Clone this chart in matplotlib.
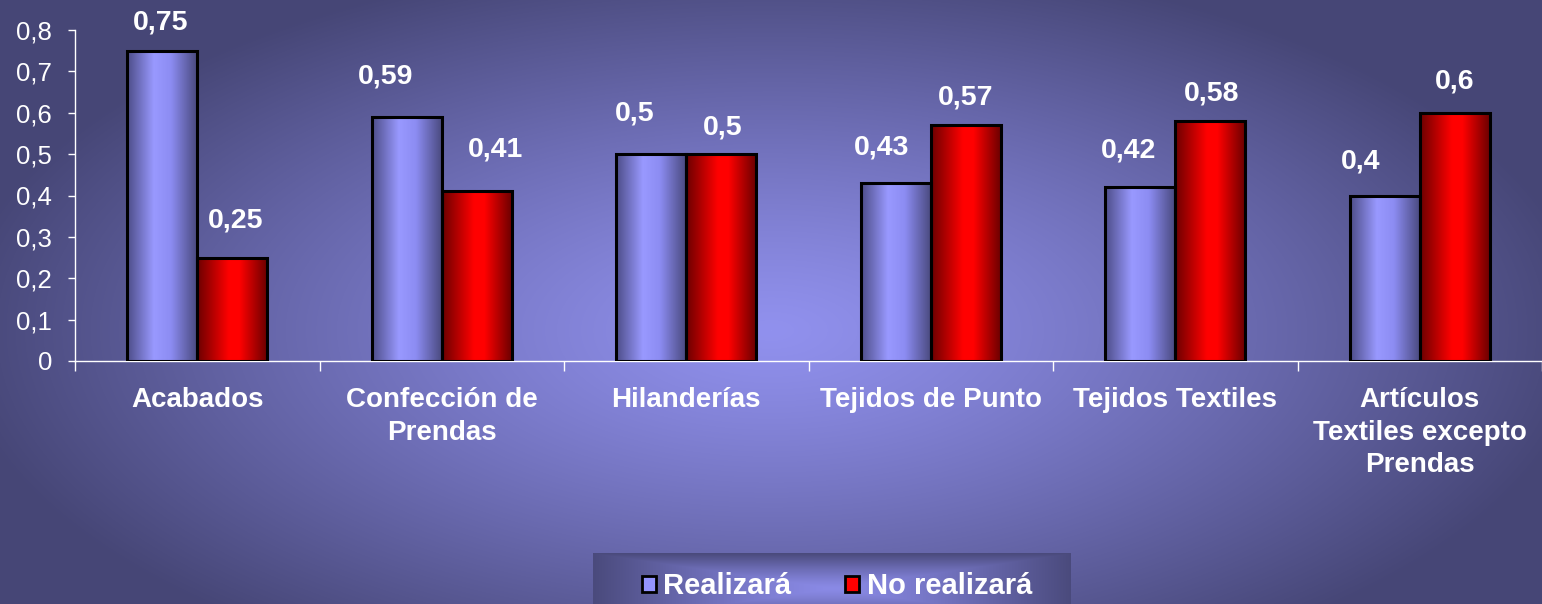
import numpy as np
import matplotlib
matplotlib.use("Agg")
import matplotlib.pyplot as plt
from matplotlib.colors import LinearSegmentedColormap
from matplotlib.patches import Patch
from matplotlib.ticker import FixedLocator, FuncFormatter

plt.rcParams['font.family'] = ['Liberation Sans', 'DejaVu Sans']

categories = ["Acabados", "Confección de\nPrendas", "Hilanderías",
              "Tejidos de Punto", "Tejidos Textiles",
              "Artículos\nTextiles excepto\nPrendas"]
realizara = [0.75, 0.59, 0.5, 0.43, 0.42, 0.4]
no_realizara = [0.25, 0.41, 0.5, 0.57, 0.58, 0.6]
series_names = ["Realizará", "No realizará"]
yticks = [0, 0.1, 0.2, 0.3, 0.4, 0.5, 0.6, 0.7, 0.8]

# label offsets in pixels (layout only)
off_real = [(-2, 28), (-21, 40), (-17, 41), (-14, 36), (-12, 37), (-24, 34)]
off_no = [(3, 37), (19, 42), (1, 27), (0, 28), (1, 28), (0, 31)]

W, H = 1542, 604
fig = plt.figure(figsize=(W / 100, H / 100), dpi=100)

# background radial gradient
yy, xx = np.mgrid[0:H, 0:W]
d = np.sqrt(((xx - 771) / 820.0) ** 2 + ((yy - 330) / 380.0) ** 2)
d = np.clip(d, 0, 1) ** 1.2
c0 = np.array([145, 145, 238]) / 255.0
c1 = np.array([70, 70, 118]) / 255.0
img = c0[None, None, :] * (1 - d[..., None]) + c1[None, None, :] * d[..., None]
bg = fig.add_axes([0, 0, 1, 1], zorder=-2)
bg.imshow(img, aspect='auto', extent=[0, 1, 0, 1], origin='upper')
bg.set_xlim(0, 1); bg.set_ylim(0, 1)
bg.axis('off')

# legend box gradient
lx0, lx1, ly0 = 593, 1071, 553
lw_, lh_ = lx1 - lx0, 70
ly_, lx_ = np.mgrid[0:lh_, 0:lw_]
dx = np.abs((lx_ - lw_ / 2) / (lw_ / 2))
dy = np.abs((ly_ - lh_ / 2) / (lh_ / 2))
dd = np.clip(np.maximum(dx, dy), 0, 1) ** 1.3
e0 = np.array([138, 138, 230]) / 255.0
e1 = np.array([74, 74, 124]) / 255.0
limg = e0[None, None, :] * (1 - dd[..., None]) + e1[None, None, :] * dd[..., None]
lax = fig.add_axes([lx0 / W, 0, lw_ / W, (H - ly0) / H], zorder=-1)
lax.imshow(limg[: H - ly0], aspect='auto', extent=[0, 1, 0, 1], origin='upper')
lax.axis('off')

ax = fig.add_axes([75 / W, (H - 361) / H, (W - 75) / W, 331 / H])
ax.patch.set_alpha(0)

x = np.arange(len(categories))
w = 0.2863
blue_cmap = LinearSegmentedColormap.from_list(
    "b", [(0, (0.30, 0.30, 0.53)), (0.38, (0.60, 0.60, 1.0)),
          (0.62, (0.55, 0.55, 0.95)), (1, (0.28, 0.28, 0.48))])
red_cmap = LinearSegmentedColormap.from_list(
    "r", [(0, (0.42, 0, 0)), (0.45, (1, 0, 0)), (0.6, (1, 0, 0)),
          (1, (0.40, 0, 0))])

b1 = ax.bar(x - w / 2, realizara, w, facecolor='none', edgecolor='black',
            linewidth=2.2, zorder=3)
b2 = ax.bar(x + w / 2, no_realizara, w, facecolor='none', edgecolor='black',
            linewidth=2.2, zorder=3)
grad = np.linspace(0, 1, 256)[None, :]
for bars, cmap in ((b1, blue_cmap), (b2, red_cmap)):
    for r in bars:
        bx, by, bw, bh = r.get_x(), r.get_y(), r.get_width(), r.get_height()
        im = ax.imshow(grad, extent=[bx, bx + bw, by, by + bh], aspect='auto',
                       cmap=cmap, zorder=2)
        im.set_clip_path(r)

ax.set_xlim(-0.5, len(categories) - 0.5)
ax.set_ylim(0, 0.8)
ax.set_aspect('auto')

fmt = lambda v: f"{v:g}".replace('.', ',')
for bars, vals, offs in ((b1, realizara, off_real), (b2, no_realizara, off_no)):
    for r, v, (ox, oy) in zip(bars, vals, offs):
        ax.annotate(fmt(v), (r.get_x() + r.get_width() / 2, v),
                    xytext=(ox, oy), textcoords='offset pixels',
                    ha='center', va='center', fontsize=20.5, fontweight='bold',
                    color='white', zorder=4)

for s in ('top', 'right'):
    ax.spines[s].set_visible(False)
for s in ('left', 'bottom'):
    ax.spines[s].set_color('white')
    ax.spines[s].set_linewidth(1.0)

ax.yaxis.set_major_locator(FixedLocator(yticks))
ax.yaxis.set_major_formatter(FuncFormatter(lambda v, p: fmt(round(v, 1))))
ax.tick_params(axis='y', colors='white', labelsize=18.5, length=5, width=1,
               pad=11.5)
ax.set_xticks(x)
ax.set_xticklabels(categories, fontsize=20, fontweight='bold', color='white',
                   linespacing=1.32)
ax.set_xticks(np.arange(-0.5, len(categories)), minor=True)
ax.tick_params(axis='x', which='major', length=0, pad=19)
ax.tick_params(axis='x', which='minor', length=7, width=1, color='white')

handles = [Patch(facecolor=(0.58, 0.58, 1.0), edgecolor='black', linewidth=2),
           Patch(facecolor=(1, 0, 0), edgecolor='black', linewidth=2)]
leg = fig.legend(handles, series_names, loc='center',
                 bbox_to_anchor=(837 / W, (H - 586) / H), ncol=2, frameon=False,
                 prop={'size': 21, 'weight': 'bold'}, handlelength=0.48,
                 handleheight=0.48, handletextpad=0.25, columnspacing=1.85,
                 borderpad=0)
for t in leg.get_texts():
    t.set_color('white')

fig.savefig("out.png", dpi=100)
